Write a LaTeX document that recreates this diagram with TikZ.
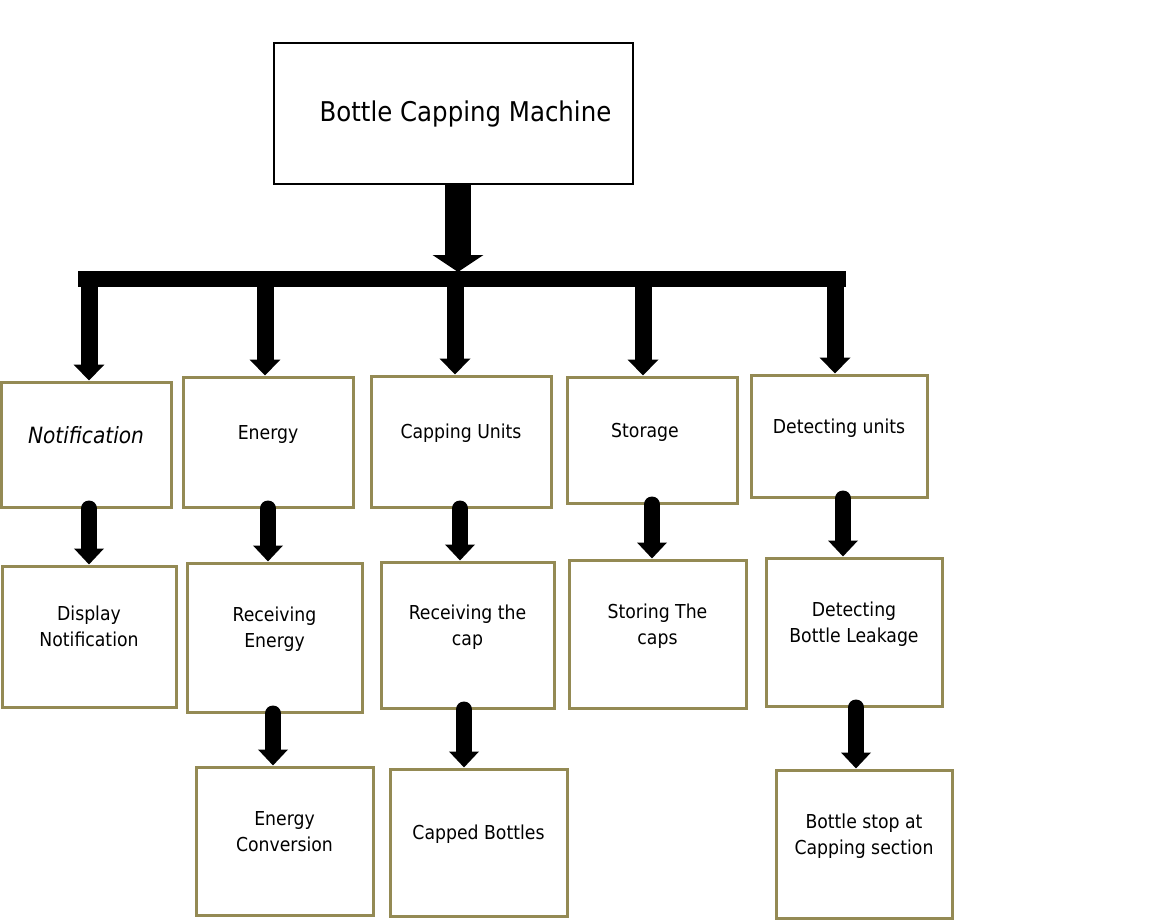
\documentclass[tikz,border=0pt]{standalone}
\usepackage{fontspec}
\setmainfont{DejaVu Sans Condensed}
\usetikzlibrary{arrows.meta}
\usetikzlibrary{positioning}
\definecolor{boxolive}{HTML}{948A54}

\tikzset{
  topbox/.style={draw=black,line width=1.25pt,minimum width=179.5pt,minimum height=70.5pt,inner sep=0pt,font=\fontsize{13.6}{15}\selectfont},
  unitbox/.style={draw=boxolive,line width=1.5pt,inner sep=0pt,align=center,text depth=10pt,font=\fontsize{9.6}{13}\selectfont},
  branch/.style={line width=8.5pt,-{Triangle[length=8pt,width=15pt]}},
  flow/.style={line width=8pt,line cap=round,-{Triangle[length=8pt,width=14.5pt]}}
}

\begin{document}
\begin{tikzpicture}[x=0.5pt,y=-0.5pt]
\useasboundingbox (0,0) rectangle (1152,922);

\node[topbox] (machine) at (453.5,113.5) {\hspace*{12pt}Bottle Capping Machine};

% first level
\node[unitbox,minimum width=85pt,minimum height=62.5pt,font=\fontsize{11.2}{13}\selectfont\itshape] (notif) at (86,444.5) {Notification};
\node[unitbox,minimum width=85pt,minimum height=65pt] (energy) at (268,442) {Energy};
\node[unitbox,minimum width=90pt,minimum height=65.5pt] (capping) at (461,441.5) {Capping Units};
\node[unitbox,minimum width=85pt,minimum height=63pt] (storage) at (652,440) {\hspace*{-7pt}Storage};
\node[unitbox,minimum width=88pt,minimum height=61pt] (detect) at (839,436) {Detecting units};

% second level
\node[unitbox,minimum width=87pt,minimum height=70.5pt] (display) at (89,636.5) {Display\\Notification};
\node[unitbox,minimum width=87.5pt,minimum height=74.5pt] (recvenergy) at (274.5,637.5) {Receiving\\Energy};
\node[unitbox,minimum width=86.5pt,minimum height=73pt] (recvcap) at (467.5,635) {Receiving the\\cap};
\node[unitbox,minimum width=88.5pt,minimum height=74pt] (storing) at (657.5,634) {Storing The\\caps};
\node[unitbox,minimum width=88pt,minimum height=74pt] (leakage) at (854,632) {Detecting\\Bottle Leakage};

% third level
\node[unitbox,minimum width=88.5pt,minimum height=74pt] (conversion) at (284.5,841) {Energy\\Conversion};
\node[unitbox,minimum width=88.5pt,minimum height=73.5pt] (capped) at (478.5,842.5) {Capped Bottles};
\node[unitbox,minimum width=88pt,minimum height=74pt] (stopcap) at (864,844) {Bottle stop at\\Capping section};

% trunk and bar
\coordinate (barL) at (78,279);
\coordinate (barR) at (846,279);
\draw[line width=8pt] (barL) -- (barR);
\draw[line width=13pt,-{Triangle[length=8.5pt,width=25pt]}] ([xshift=2.25pt]machine.south) -- ([xshift=2.25pt]machine.south |- 0,272);

% bar to first level
\draw[branch] ([xshift=1.5pt]notif.north |- barL) -- ([xshift=1.5pt]notif.north);
\draw[branch] ([xshift=-1.5pt]energy.north |- barL) -- ([xshift=-1.5pt]energy.north);
\draw[branch] ([xshift=-3pt]capping.north |- barL) -- ([xshift=-3pt]capping.north);
\draw[branch] ([xshift=-4.5pt]storage.north |- barL) -- ([xshift=-4.5pt]storage.north);
\draw[branch] ([xshift=-2pt]detect.north |- barL) -- ([xshift=-2pt]detect.north);

% first to second level
\draw[flow] ([xshift=1.5pt]notif.south) -- ([xshift=1.5pt]notif.south |- display.north);
\draw[flow] (energy.south) -- (energy.south |- recvenergy.north);
\draw[flow] ([xshift=-0.5pt]capping.south) -- ([xshift=-0.5pt]capping.south |- recvcap.north);
\draw[flow] (storage.south) -- (storage.south |- storing.north);
\draw[flow] ([xshift=2pt]detect.south) -- ([xshift=2pt]detect.south |- leakage.north);

% second to third level
\draw[flow] ([xshift=-0.75pt]recvenergy.south) -- ([xshift=-0.75pt]recvenergy.south |- conversion.north);
\draw[flow] ([xshift=-1.75pt]recvcap.south) -- ([xshift=-1.75pt]recvcap.south |- capped.north);
\draw[flow] ([xshift=1pt]leakage.south) -- ([xshift=1pt]leakage.south |- stopcap.north);

\end{tikzpicture}
\end{document}
